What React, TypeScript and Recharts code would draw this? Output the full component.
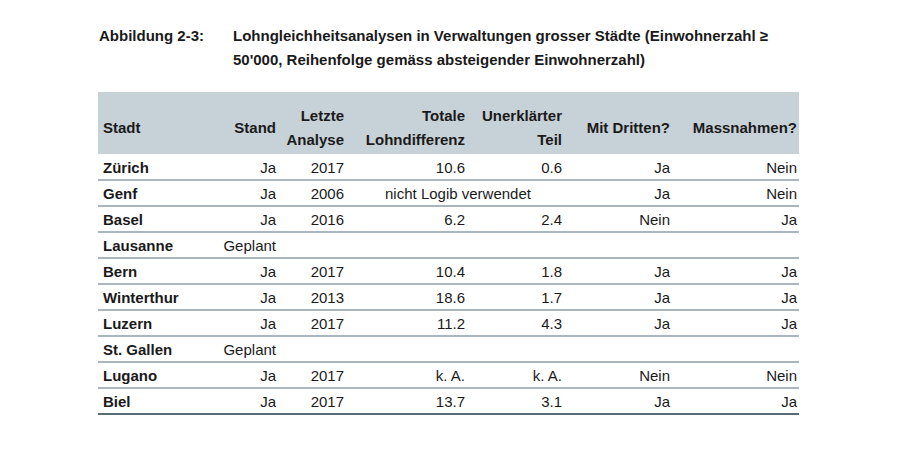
import { Surface, Layer, Text, Rectangle } from "recharts";

const cities = ["Zürich", "Genf", "Basel", "Lausanne", "Bern", "Winterthur", "Luzern", "St. Gallen", "Lugano", "Biel"];
const stand = ["Ja", "Ja", "Ja", "Geplant", "Ja", "Ja", "Ja", "Geplant", "Ja", "Ja"];
const letzteAnalyse = ["2017", "2006", "2016", "", "2017", "2013", "2017", "", "2017", "2017"];
const totaleLohndifferenz = ["10.6", "", "6.2", "", "10.4", "18.6", "11.2", "", "k. A.", "13.7"];
const unerklaerterTeil = ["0.6", "", "2.4", "", "1.8", "1.7", "4.3", "", "k. A.", "3.1"];
const mitDritten = ["Ja", "Ja", "Nein", "", "Ja", "Ja", "Ja", "", "Nein", "Ja"];
const massnahmen = ["Nein", "Nein", "Ja", "", "Ja", "Ja", "Ja", "", "Nein", "Ja"];
// row where both difference columns are replaced by one note
const spanNotes: Record<number, string> = { 1: "nicht Logib verwendet" };

const headers = [
  ["Stand"],
  ["Letzte", "Analyse"],
  ["Totale", "Lohndifferenz"],
  ["Unerklärter", "Teil"],
  ["Mit Dritten?"],
  ["Massnahmen?"],
];
const valueCols = [stand, letzteAnalyse, totaleLohndifferenz, unerklaerterTeil, mitDritten, massnahmen];

const titleLabel = "Abbildung 2-3:";
const titleLines = [
  "Lohngleichheitsanalysen in Verwaltungen grosser Städte (Einwohnerzahl ≥",
  "50'000, Reihenfolge gemäss absteigender Einwohnerzahl)",
];

const FONT = "'Liberation Sans', Arial, Helvetica, sans-serif";
const INK = "#1a1a1a";
const LEFT = 98;
const RIGHT = 799;
const HEAD_TOP = 92;
const HEAD_BOTTOM = 154;
const ROW_H = 26;
const colRight = [276, 344, 465, 562, 670, 797];

export default function App() {
  const lastRow = cities.length - 1;
  return (
    <div style={{ position: "absolute", left: 0, top: 0, width: 900, height: 450, background: "#fff" }}>
      <Surface width={900} height={450} viewBox={{ x: 0, y: 0, width: 900, height: 450 }}>
        <Layer>
          <Text x={99} y={36} verticalAnchor="middle" fontFamily={FONT} fontWeight="bold" fontSize={15} fill={INK}>
            {titleLabel}
          </Text>
          {titleLines.map((t, i) => (
            <Text key={t} x={233} y={36 + i * 24} verticalAnchor="middle" fontFamily={FONT} fontWeight="bold" fontSize={15} fill={INK}>
              {t}
            </Text>
          ))}
        </Layer>

        <Rectangle x={LEFT} y={HEAD_TOP} width={RIGHT - LEFT} height={HEAD_BOTTOM - HEAD_TOP} fill="#c7d1d8" />
        <Text x={103} y={128} verticalAnchor="middle" fontFamily={FONT} fontWeight="bold" fontSize={15} fill={INK}>
          Stadt
        </Text>
        {headers.map((lines, c) =>
          lines.map((h, j) => (
            <Text
              key={h}
              x={colRight[c]}
              y={lines.length === 1 ? 128 : 116 + j * 24}
              textAnchor="end"
              verticalAnchor="middle"
              fontFamily={FONT}
              fontWeight="bold"
              fontSize={15}
              fill={INK}
            >
              {h}
            </Text>
          ))
        )}

        {cities.map((city, r) => {
          const top = HEAD_BOTTOM + r * ROW_H;
          const cy = top + 14;
          return (
            <Layer key={city}>
              <Rectangle
                x={LEFT}
                y={top + ROW_H - 1}
                width={RIGHT - LEFT}
                height={2}
                fill={r === lastRow ? "#5b6b76" : "#a9b6be"}
              />
              <Text x={103} y={cy} verticalAnchor="middle" fontFamily={FONT} fontWeight="bold" fontSize={15} fill={INK}>
                {city}
              </Text>
              {valueCols.map((col, c) =>
                col[r] ? (
                  <Text
                    key={c}
                    x={colRight[c]}
                    y={cy}
                    textAnchor="end"
                    verticalAnchor="middle"
                    fontFamily={FONT}
                    fontSize={15}
                    fill={INK}
                  >
                    {col[r]}
                  </Text>
                ) : null
              )}
              {spanNotes[r] ? (
                <Text x={458} y={cy} textAnchor="middle" verticalAnchor="middle" fontFamily={FONT} fontSize={15} fill={INK}>
                  {spanNotes[r]}
                </Text>
              ) : null}
            </Layer>
          );
        })}
      </Surface>
    </div>
  );
}
